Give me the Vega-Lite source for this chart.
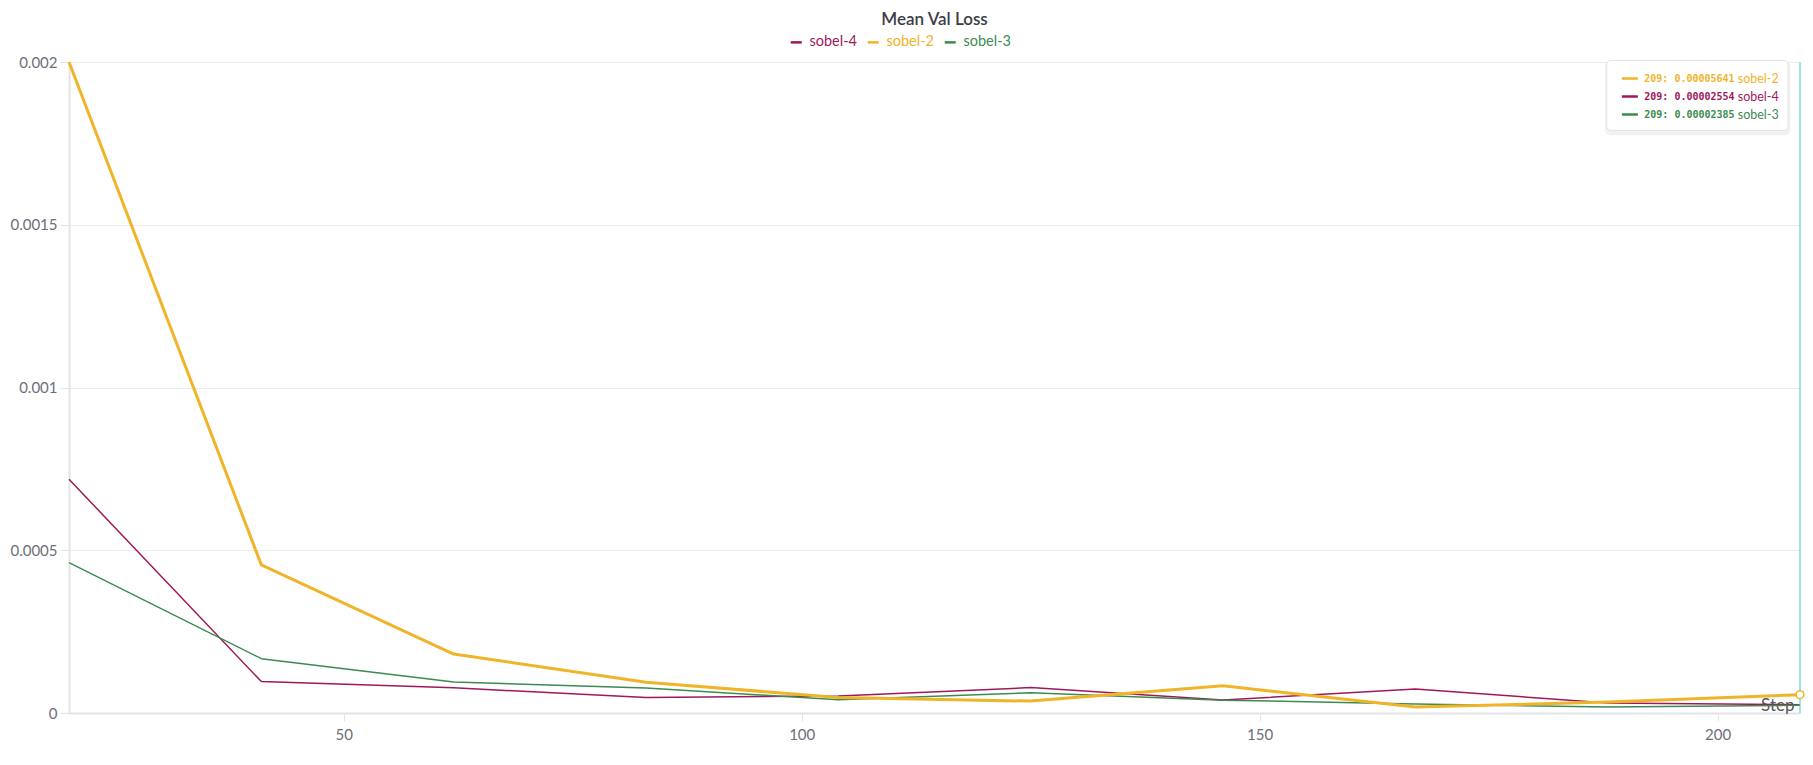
{
  "$schema": "https://vega.github.io/schema/vega-lite/v6.json",
  "width": 1731,
  "height": 651,
  "autosize": {"type": "none"},
  "padding": {"left": 69, "top": 62, "right": 13, "bottom": 52},
  "background": "white",
  "config": {"font": "Lato", "view": {"stroke": null}},
  "title": {"text": "Mean Val Loss", "fontSize": 17, "fontWeight": 600, "color": "#3d3d45", "anchor": "middle", "offset": 6},
  "datasets": {
    "loss": [
      {"series": "sobel-2", "step": 20, "loss": 0.002},
      {"series": "sobel-2", "step": 41, "loss": 0.000455},
      {"series": "sobel-2", "step": 62, "loss": 0.000181},
      {"series": "sobel-2", "step": 83, "loss": 0.0000945},
      {"series": "sobel-2", "step": 104, "loss": 0.0000475},
      {"series": "sobel-2", "step": 125, "loss": 0.0000365},
      {"series": "sobel-2", "step": 146, "loss": 0.0000835},
      {"series": "sobel-2", "step": 167, "loss": 0.0000185},
      {"series": "sobel-2", "step": 188, "loss": 0.0000335},
      {"series": "sobel-2", "step": 209, "loss": 0.00005641},
      {"series": "sobel-4", "step": 20, "loss": 0.000718},
      {"series": "sobel-4", "step": 41, "loss": 0.0000965},
      {"series": "sobel-4", "step": 62, "loss": 0.0000775},
      {"series": "sobel-4", "step": 83, "loss": 0.0000475},
      {"series": "sobel-4", "step": 104, "loss": 0.0000525},
      {"series": "sobel-4", "step": 125, "loss": 0.000078},
      {"series": "sobel-4", "step": 146, "loss": 0.00004},
      {"series": "sobel-4", "step": 167, "loss": 0.0000735},
      {"series": "sobel-4", "step": 188, "loss": 0.000031},
      {"series": "sobel-4", "step": 209, "loss": 0.00002554},
      {"series": "sobel-3", "step": 20, "loss": 0.000462},
      {"series": "sobel-3", "step": 41, "loss": 0.000167},
      {"series": "sobel-3", "step": 62, "loss": 0.0000955},
      {"series": "sobel-3", "step": 83, "loss": 0.0000765},
      {"series": "sobel-3", "step": 104, "loss": 0.000041},
      {"series": "sobel-3", "step": 125, "loss": 0.000062},
      {"series": "sobel-3", "step": 146, "loss": 0.0000395},
      {"series": "sobel-3", "step": 167, "loss": 0.000028},
      {"series": "sobel-3", "step": 188, "loss": 0.0000185},
      {"series": "sobel-3", "step": 209, "loss": 0.00002385}
    ]
  },
  "data": {"name": "loss"},
  "layer": [
    {
      "layer": [
        {
          "transform": [{"filter": "datum.series != 'sobel-2'"}],
          "mark": {"type": "line", "strokeWidth": 1.5, "strokeJoin": "round"},
          "encoding": {
            "x": {"field": "step", "type": "quantitative",
              "scale": {"domain": [20, 209], "nice": false, "zero": false},
              "axis": {"values": [50, 100, 150, 200], "title": "Step", "titleAnchor": "end", "titleAlign": "right", "titleBaseline": "alphabetic", "titleX": 1725, "titleY": -3, "titleFontSize": 17, "titleFontWeight": "normal", "titleColor": "#55555f", "labelFontSize": 15, "labelColor": "#6e6e78", "labelPadding": 6, "tickColor": "#e3e3e3", "tickSize": 8, "domainColor": "#e3e3e3", "domainWidth": 2, "grid": false}},
            "y": {"field": "loss", "type": "quantitative",
              "scale": {"domain": [0, 0.002], "nice": false},
              "axis": {"values": [0, 0.0005, 0.001, 0.0015, 0.002], "format": "~g", "title": null, "labelFontSize": 15, "labelColor": "#6e6e78", "tickColor": "#e3e3e3", "tickSize": 9, "labelPadding": 3, "domainColor": "#e3e3e3", "domainWidth": 2, "grid": true, "gridColor": "#ececec"}},
            "color": {"field": "series", "type": "nominal",
              "scale": {"domain": ["sobel-4", "sobel-2", "sobel-3"], "range": ["#a0185a", "#f0b429", "#3d8b4f"]},
              "legend": {"orient": "none", "legendX": 720, "legendY": -27, "direction": "horizontal", "title": null, "symbolType": "stroke", "symbolSize": 121, "symbolStrokeWidth": 2.5, "labelFontSize": 14.5, "columnPadding": 5, "labelOffset": 6,
                "encode": {"labels": {"update": {"fill": {"scale": "color", "field": "value"}}}}}}
          }
        },
        {
          "transform": [{"filter": "datum.series == 'sobel-2'"}],
          "mark": {"type": "line", "strokeWidth": 3, "strokeJoin": "round"},
          "encoding": {
            "x": {"field": "step", "type": "quantitative"},
            "y": {"field": "loss", "type": "quantitative"},
            "color": {"field": "series", "type": "nominal"}
          }
        },
        {
          "transform": [{"filter": "datum.step == 209 && datum.series == 'sobel-2'"}],
          "mark": {"type": "rule", "color": "#3fcfc8", "strokeWidth": 1},
          "encoding": {"x": {"field": "step", "type": "quantitative"}}
        },
        {
          "transform": [{"filter": "datum.step == 209 && datum.series == 'sobel-2'"}],
          "mark": {"type": "point", "filled": true, "fill": "white", "stroke": "#f0b429", "strokeWidth": 1.5, "size": 60, "opacity": 1},
          "encoding": {"x": {"field": "step", "type": "quantitative"}, "y": {"field": "loss", "type": "quantitative"}}
        },
        {
          "data": {"values": [{}]},
          "mark": {"type": "rect", "fill": "#000000", "fillOpacity": 0.05, "cornerRadius": 5},
          "encoding": {"x": {"datum": 187.7}, "x2": {"datum": 207.95}, "y": {"datum": 0.002}, "y2": {"datum": 0.001775}}
        },
        {
          "data": {"values": [{}]},
          "mark": {"type": "rect", "fill": "white", "stroke": "#e2e2e6", "strokeWidth": 1, "cornerRadius": 4},
          "encoding": {"x": {"datum": 187.9}, "x2": {"datum": 207.7}, "y": {"datum": 0.002005}, "y2": {"datum": 0.00179}}
        }
      ]
    },
    {
      "transform": [
        {"filter": "datum.step == 209"},
        {"calculate": "datum.step + ': ' + format(datum.loss, '.8f')", "as": "label"}
      ],
      "encoding": {
        "y": {"field": "series", "type": "nominal", "sort": ["sobel-2", "sobel-4", "sobel-3"], "scale": {"type": "point", "range": [16.5, 52.5], "padding": 0}, "axis": null},
        "color": {"field": "series", "type": "nominal", "legend": null}
      },
      "layer": [
        {
          "mark": {"type": "rule", "strokeWidth": 2.5},
          "encoding": {"x": {"datum": 189.55}, "x2": {"datum": 191.3}}
        },
        {
          "mark": {"type": "text", "align": "left", "baseline": "middle", "font": "DejaVu Sans Mono", "fontSize": 10, "fontWeight": "bold"},
          "encoding": {"x": {"datum": 192.0}, "text": {"field": "label"}}
        },
        {
          "mark": {"type": "text", "align": "left", "baseline": "middle", "fontSize": 12.5},
          "encoding": {"x": {"datum": 202.2}, "text": {"field": "series"}}
        }
      ]
    }
  ],
  "resolve": {"scale": {"y": "independent"}}
}
